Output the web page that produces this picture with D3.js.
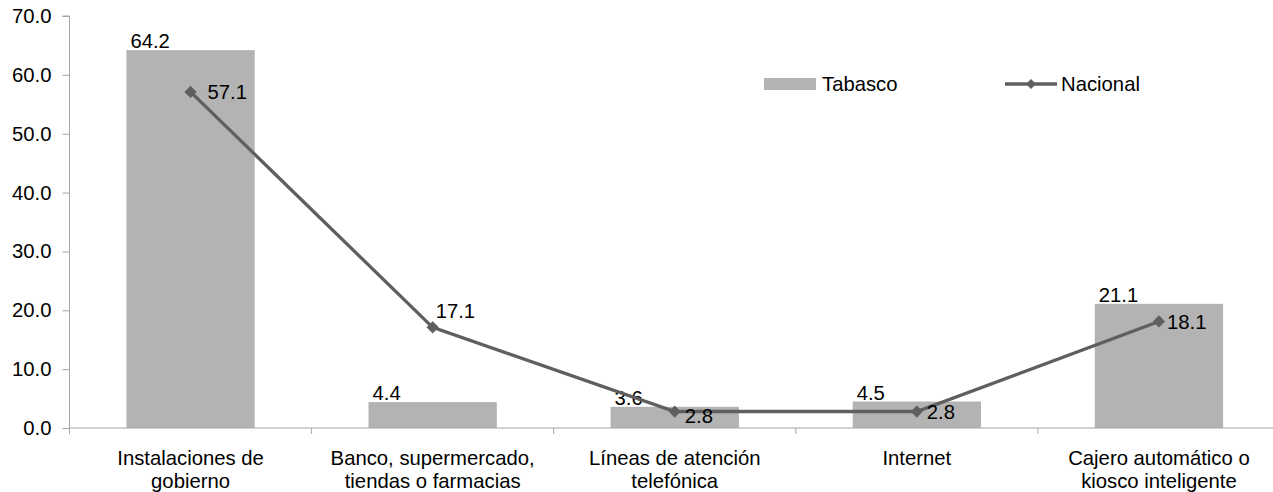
<!DOCTYPE html>
<html>
<head>
<meta charset="utf-8">
<script src="https://cdn.jsdelivr.net/npm/d3@7"></script>
<style>
  html, body { margin: 0; padding: 0; background: #fff; }
  svg { display: block; font-family: "Liberation Sans", Arial, sans-serif; }
</style>
</head>
<body>
<div id="chart"></div>
<script>
// data
const categories = [
  ["Instalaciones de", "gobierno"],
  ["Banco, supermercado,", "tiendas o farmacias"],
  ["Líneas de atención", "telefónica"],
  ["Internet"],
  ["Cajero automático o", "kiosco inteligente"],
];
const tabasco = [64.2, 4.4, 3.6, 4.5, 21.1];
const nacional = [57.1, 17.1, 2.8, 2.8, 18.1];
const yTicks = [0, 10, 20, 30, 40, 50, 60, 70];
const seriesNames = ["Tabasco", "Nacional"];

// label nudges for the line series (dx, dy)
const lineLabelNudge = [[17, 0], [3, -16], [10, 4], [10, 0], [8, 0]];

//size
const width = 1273, height = 492;
const margin = { top: 16, right: -7, bottom: 64, left: 69.5 };
const barColor = "#b3b3b3";
const lineColor = "#5f5f5f";
const axisColor = "#a6a6a6";
const fontSize = 20.3;

const svg = d3.select("#chart").append("svg")
  .attr("width", width)
  .attr("height", height);

const x = d3.scaleBand()
  .domain(d3.range(categories.length))
  .range([margin.left, width - margin.right])
  .paddingInner(0.47)
  .paddingOuter(0.235);

const y = d3.scaleLinear()
  .domain([0, 70])
  .range([height - margin.bottom, margin.top]);

// band boundaries (for x ticks)
const step = x.step();
const x0 = margin.left;

//bars
svg.append("g")
  .selectAll("rect")
  .data(tabasco)
  .join("rect")
  .attr("x", (d, i) => x(i))
  .attr("y", (d) => y(d))
  .attr("width", x.bandwidth())
  .attr("height", (d) => y(0) - y(d))
  .attr("fill", barColor);

// y axis
const yAxis = svg.append("g")
  .attr("transform", `translate(${margin.left},0)`)
  .call(d3.axisLeft(y).tickValues(yTicks).tickSize(7).tickPadding(11).tickFormat(d3.format(".1f")));
yAxis.select(".domain").attr("stroke", axisColor).attr("d", `M-7,${y(70)}H0V${y(0)}`);
yAxis.selectAll(".tick line").attr("stroke", axisColor);
yAxis.selectAll(".tick text")
  .attr("font-size", fontSize)
  .attr("font-family", "Liberation Sans, Arial, sans-serif")
  .attr("fill", "#000");

// x axis line + ticks at band boundaries
const xAxisG = svg.append("g");
xAxisG.append("line")
  .attr("x1", x0).attr("x2", width)
  .attr("y1", y(0)).attr("y2", y(0))
  .attr("stroke", axisColor);
xAxisG.selectAll("line.tick")
  .data(d3.range(categories.length + 1))
  .join("line")
  .attr("class", "tick")
  .attr("x1", (i) => x0 + i * step).attr("x2", (i) => x0 + i * step)
  .attr("y1", y(0)).attr("y2", y(0) + 6)
  .attr("stroke", axisColor);

// category labels
xAxisG.selectAll("text.cat")
  .data(categories)
  .join("text")
  .attr("class", "cat")
  .attr("text-anchor", "middle")
  .attr("font-size", fontSize)
  .attr("fill", "#000")
  .each(function (d, i) {
    const t = d3.select(this);
    d.forEach((line, k) => {
      t.append("tspan")
        .attr("x", x(i) + x.bandwidth() / 2)
        .attr("y", y(0) + 37 + k * 23)
        .text(line);
    });
  });

// bar labels
svg.append("g")
  .selectAll("text")
  .data(tabasco)
  .join("text")
  .attr("x", (d, i) => x(i) + 4)
  .attr("y", (d) => y(d) - 2)
  .attr("font-size", fontSize)
  .attr("fill", "#000")
  .text((d) => d3.format(".1f")(d));

//line
const cx = (i) => x(i) + x.bandwidth() / 2;
const line = d3.line()
  .x((d, i) => cx(i))
  .y((d) => y(d));

svg.append("path")
  .datum(nacional)
  .attr("fill", "none")
  .attr("stroke", lineColor)
  .attr("stroke-width", 3.3)
  .attr("d", line);

svg.append("g")
  .selectAll("path")
  .data(nacional)
  .join("path")
  .attr("transform", (d, i) => `translate(${cx(i)},${y(d)}) rotate(45)`)
  .attr("d", d3.symbol().type(d3.symbolSquare).size(75))
  .attr("fill", lineColor);

svg.append("g")
  .selectAll("text")
  .data(nacional)
  .join("text")
  .attr("x", (d, i) => cx(i) + lineLabelNudge[i][0])
  .attr("y", (d, i) => y(d) + lineLabelNudge[i][1])
  .attr("dy", "0.35em")
  .attr("font-size", fontSize)
  .attr("fill", "#000")
  .text((d) => d3.format(".1f")(d));

//legend
const legend = svg.append("g");
legend.append("rect")
  .attr("x", 764).attr("y", 78)
  .attr("width", 52).attr("height", 12)
  .attr("fill", barColor);
legend.append("text")
  .attr("x", 822).attr("y", 84).attr("dy", "0.35em")
  .attr("font-size", fontSize)
  .text(seriesNames[0]);
legend.append("line")
  .attr("x1", 1005).attr("x2", 1057)
  .attr("y1", 84).attr("y2", 84)
  .attr("stroke", lineColor).attr("stroke-width", 3.3);
legend.append("path")
  .attr("transform", "translate(1031,84) rotate(45)")
  .attr("d", d3.symbol().type(d3.symbolSquare).size(50))
  .attr("fill", lineColor);
legend.append("text")
  .attr("x", 1061).attr("y", 84).attr("dy", "0.35em")
  .attr("font-size", fontSize)
  .text(seriesNames[1]);
</script>
</body>
</html>
